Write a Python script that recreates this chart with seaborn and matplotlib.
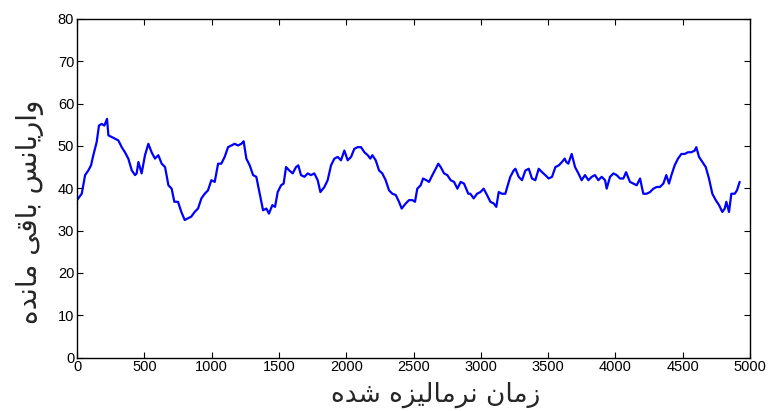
import matplotlib
matplotlib.use("Agg")
import matplotlib.pyplot as plt
import pandas as pd
import seaborn as sns

# normalized time and residual variance
time_pts = [0, 35, 60, 84, 104, 121, 146, 163, 183, 203, 223, 233, 258, 282, 307,
            332, 356, 381, 407, 431, 443, 456, 480, 505, 530, 554, 579, 604, 629,
            654, 679, 703, 723, 750, 775, 800, 825, 849, 874, 899, 924, 949, 973,
            998, 1023, 1048, 1072, 1097, 1122, 1147, 1171, 1196, 1221, 1238, 1258,
            1283, 1308, 1332, 1357, 1382, 1407, 1426, 1451, 1471, 1491, 1516, 1535,
            1553, 1577, 1602, 1627, 1644, 1664, 1689, 1714, 1738, 1763, 1788, 1808,
            1838, 1862, 1887, 1912, 1937, 1961, 1986, 2011, 2036, 2060, 2085, 2110,
            2135, 2160, 2179, 2194, 2219, 2244, 2268, 2293, 2318, 2343, 2368, 2392,
            2412, 2442, 2467, 2491, 2511, 2528, 2553, 2571, 2595, 2615, 2640, 2665,
            2684, 2702, 2727, 2751, 2776, 2801, 2826, 2850, 2875, 2907, 2922, 2947,
            2972, 2997, 3021, 3046, 3071, 3096, 3115, 3133, 3157, 3182, 3200, 3219,
            3244, 3257, 3281, 3306, 3331, 3356, 3380, 3405, 3430, 3455, 3479, 3504,
            3529, 3554, 3579, 3603, 3623, 3635, 3650, 3675, 3700, 3725, 3749, 3774,
            3799, 3824, 3848, 3873, 3898, 3923, 3935, 3960, 3985, 4009, 4034, 4059,
            4079, 4108, 4133, 4158, 4183, 4207, 4232, 4257, 4282, 4306, 4331, 4356,
            4378, 4398, 4416, 4440, 4465, 4490, 4515, 4539, 4564, 4589, 4601, 4621,
            4646, 4671, 4695, 4720, 4745, 4770, 4794, 4812, 4824, 4844, 4861, 4886,
            4903, 4923]
variance = [37.2, 38.7, 43.1, 44.2, 45.4, 47.8, 50.9, 54.8, 55.2, 54.8, 56.4, 52.5,
            52.1, 51.7, 51.3, 49.7, 48.5, 47.0, 44.2, 43.1, 43.5, 46.2, 43.5, 47.8,
            50.5, 48.5, 47.0, 47.8, 45.8, 45.0, 40.7, 39.9, 36.8, 36.8, 34.4, 32.5,
            32.9, 33.3, 34.4, 35.2, 37.6, 38.7, 39.5, 41.9, 41.5, 45.8, 45.8, 47.4,
            49.7, 50.1, 50.5, 50.1, 50.5, 51.1, 47.0, 45.4, 43.1, 42.7, 38.7, 34.8,
            35.2, 34.0, 36.0, 35.6, 39.1, 40.7, 41.1, 45.0, 44.2, 43.5, 45.0, 45.4,
            43.1, 42.7, 43.5, 43.1, 43.5, 41.9, 39.1, 40.3, 41.9, 45.4, 47.0, 47.4,
            46.6, 48.9, 46.6, 47.4, 49.3, 49.7, 49.7, 48.5, 47.8, 47.0, 47.8, 46.6,
            44.2, 43.5, 41.9, 39.5, 38.7, 38.4, 36.8, 35.2, 36.4, 37.2, 37.2, 36.8,
            39.9, 40.7, 42.3, 41.9, 41.5, 43.1, 44.6, 45.8, 45.0, 43.5, 43.1, 41.9,
            41.5, 39.9, 41.5, 41.1, 38.7, 38.7, 37.6, 38.7, 39.1, 39.9, 38.4, 36.8,
            36.4, 35.6, 39.1, 38.7, 38.7, 40.7, 42.7, 44.2, 44.6, 42.7, 41.9, 44.2,
            44.6, 42.3, 41.9, 44.6, 43.8, 43.1, 42.3, 42.7, 45.0, 45.4, 46.2, 47.0,
            46.2, 45.8, 48.1, 45.0, 43.5, 41.9, 43.1, 41.9, 42.7, 43.1, 41.9, 42.7,
            41.9, 39.9, 42.7, 43.5, 43.1, 42.3, 42.3, 43.8, 41.5, 41.1, 40.7, 42.3,
            38.7, 38.7, 39.1, 39.9, 40.3, 40.3, 41.1, 43.1, 41.1, 43.1, 45.4, 47.0,
            48.1, 48.1, 48.5, 48.5, 48.9, 49.7, 47.4, 46.2, 45.0, 42.3, 38.7, 37.2,
            36.0, 34.4, 35.2, 36.8, 34.4, 38.7, 38.7, 39.5, 41.5]

x_ticks = list(range(0, 5001, 500))
y_ticks = list(range(0, 81, 10))

# Persian labels written with Arabic presentation forms (matplotlib has no shaping)
ylabel_fa = "\uFEED\uFE8D\uFEAD\uFBFE\uFE8E\uFEE7\uFEB2 \uFE91\uFE8E\uFED7\uFBFD \uFEE3\uFE8E\uFEE7\uFEAA\uFEE9"
xlabel_fa = "\uFEAF\uFEE3\uFE8E\uFEE5 \uFEE7\uFEAE\uFEE3\uFE8E\uFEDF\uFBFF\uFEB0\uFEE9 \uFEB7\uFEAA\uFEE9"

df = pd.DataFrame({"t": time_pts, "v": variance})

sns.set_style("ticks")
plt.rcParams["font.family"] = ["Liberation Sans", "DejaVu Sans"]

fig = plt.figure(figsize=(7.71, 4.11), dpi=100)
ax = fig.add_axes([0.0999, 0.130, 0.8729, 0.824])

sns.lineplot(data=df, x="t", y="v", color="#0000ff", linewidth=1.6, ax=ax)

ax.set_xlim(0, 5000)
ax.set_ylim(0, 80)
ax.set_xticks(x_ticks)
ax.set_yticks(y_ticks)
ax.tick_params(direction="in", length=4, width=0.8, top=True, right=True,
               labelsize=10.5, colors="black", pad=2)
for sp in ax.spines.values():
    sp.set_visible(True)
    sp.set_linewidth(1.0)
    sp.set_color("black")

ax.set_xlabel(xlabel_fa[::-1], fontsize=19, family=["DejaVu Sans"], va="center")
ax.set_ylabel(ylabel_fa[::-1], fontsize=20, family=["DejaVu Sans"], va="center")
ax.xaxis.set_label_coords(0.533, -0.111)
ax.yaxis.set_label_coords(-0.07, 0.43)

fig.savefig("out.png", dpi=100)
